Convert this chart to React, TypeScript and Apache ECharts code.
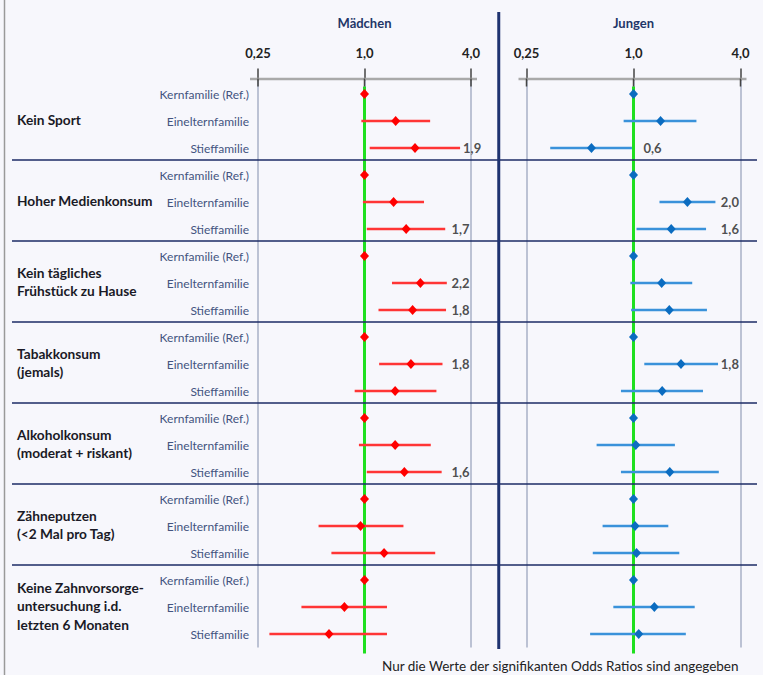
import React, { useEffect, useRef } from "react";
import * as echarts from "echarts";

const groups = [
  "Kein Sport",
  "Hoher Medienkonsum",
  "Kein tägliches\nFrühstück zu Hause",
  "Tabakkonsum\n(jemals)",
  "Alkoholkonsum\n(moderat + riskant)",
  "Zähneputzen\n(<2 Mal pro Tag)",
  "Keine Zahnvorsorge-\nuntersuchung i.d.\nletzten 6 Monaten",
];
const families = ["Kernfamilie (Ref.)", "Einelternfamilie", "Stieffamilie"];
const panelTitles = ["Mädchen", "Jungen"];
const tickValues = [0.25, 1, 4];

// Mädchen (odds ratio, lower CI, upper CI), 3 rows per group
const girlsOR = [1, 1.5, 1.93, 1, 1.46, 1.72, 1, 2.07, 1.87, 1, 1.83, 1.49, 1, 1.49, 1.68, 1, 0.95, 1.29, 1, 0.77, 0.63];
const girlsLo = [null, 0.96, 1.07, null, 0.98, 1.03, null, 1.43, 1.2, null, 1.21, 0.88, null, 0.93, 1.03, null, 0.55, 0.65, null, 0.44, 0.29];
const girlsHi = [null, 2.35, 3.47, null, 2.17, 2.86, null, 2.92, 2.89, null, 2.76, 2.55, null, 2.37, 2.73, null, 1.66, 2.51, null, 1.34, 1.34];
const girlsSig = ["", "", "1,9", "", "", "1,7", "", "2,2", "1,8", "", "1,8", "", "", "", "1,6", "", "", "", "", "", ""];

// Jungen
const boysOR = [1, 1.42, 0.58, 1, 2.01, 1.63, 1, 1.44, 1.59, 1, 1.85, 1.45, 1, 1.03, 1.6, 1, 1.02, 1.04, 1, 1.31, 1.07];
const boysLo = [null, 0.88, 0.34, null, 1.4, 1.04, null, 0.96, 0.97, null, 1.15, 0.85, null, 0.62, 0.85, null, 0.67, 0.59, null, 0.77, 0.57];
const boysHi = [null, 2.26, 0.98, null, 2.89, 2.56, null, 2.14, 2.59, null, 2.99, 2.46, null, 1.71, 3.02, null, 1.57, 1.81, null, 2.21, 1.97];
const boysSig = ["", "", "0,6", "", "2,0", "1,6", "", "", "", "", "1,8", "", "", "", "", "", "", "", "", "", ""];

const noteText = "Nur die Werte der signifikanten Odds Ratios sind angegeben";

const FONT = "Lato, 'Open Sans', 'Noto Sans', sans-serif";
const LABEL_COL = 3.1;

export default function App() {
  const ref = useRef<HTMLDivElement>(null);

  useEffect(() => {
    const chart = echarts.init(ref.current!, null, { renderer: "svg" });
    const n = groups.length * families.length;
    const rowIdx = Array.from({ length: n }, (_, i) => i);
    const lg = (v: number) => Math.log2(v);
    const fmtTick = (v: number) => {
      const val = Math.pow(2, v);
      return (val < 1 ? val.toFixed(2) : val.toFixed(1)).replace(".", ",");
    };

    const panels = [
      { or: girlsOR, lo: girlsLo, hi: girlsHi, sig: girlsSig, line: "#ff3535", mark: "#ff0000" },
      { or: boysOR, lo: boysLo, hi: boysHi, sig: boysSig, line: "#3a92da", mark: "#0b6cc0" },
    ];

    const grids = [
      { left: 258, top: 80.5, width: 213, height: 567 },
      { left: 526.5, top: 80.5, width: 214, height: 567 },
    ];

    const xAxes = grids.map((_, k) => ({
      type: "value",
      gridIndex: k,
      position: "top",
      min: lg(tickValues[0]),
      max: lg(tickValues[tickValues.length - 1]),
      interval: lg(tickValues[1]) - lg(tickValues[0]),
      axisLine: { show: false },
      axisTick: { show: true, length: 12, lineStyle: { color: "#444", width: 1.5 } },
      axisLabel: {
        formatter: fmtTick,
        fontFamily: FONT,
        fontSize: 13,
        fontWeight: "bold",
        color: "#222",
        margin: 21,
      },
      splitLine: { show: true, lineStyle: { color: "#bcc2d4", width: 2 } },
    }));

    const yAxes = grids.map((_, k) => ({
      type: "category",
      gridIndex: k,
      inverse: true,
      data: rowIdx.map(String),
      axisLine: { show: false },
      axisTick: { show: false },
      splitLine: { show: false },
      axisLabel:
        k === 0
          ? {
              show: true,
              interval: 0,
              formatter: (_v: string, i: number) => families[i % families.length],
              margin: 9,
              fontSize: 12,
              color: "#43547f",
              fontFamily: FONT,
            }
          : { show: false },
    }));

    const series: any[] = [];
    panels.forEach((p, k) => {
      const ciData = rowIdx
        .filter((i) => p.lo[i] != null && p.hi[i] != null)
        .map((i) => [lg(p.lo[i] as number), lg(p.hi[i] as number), i]);
      series.push({
        type: "custom",
        xAxisIndex: k,
        yAxisIndex: k,
        z: 3,
        encode: { x: [0, 1], y: 2 },
        data: ciData,
        renderItem: (_params: any, api: any) => {
          const a = api.coord([api.value(0), api.value(2)]);
          const b = api.coord([api.value(1), api.value(2)]);
          return {
            type: "line",
            shape: { x1: a[0], y1: a[1], x2: b[0], y2: b[1] },
            style: { stroke: p.line, lineWidth: 2.5 },
          };
        },
      });
      series.push({
        type: "scatter",
        xAxisIndex: k,
        yAxisIndex: k,
        z: 4,
        symbol: "diamond",
        symbolSize: [9, 10],
        itemStyle: { color: p.mark, opacity: 1 },
        data: rowIdx.map((i) => [lg(p.or[i]), i]),
      });
      const labData = rowIdx
        .filter((i) => p.sig[i])
        .map((i) => {
          const hi = p.hi[i] as number;
          const anchor = hi < 1 ? 1 : Math.max(hi, LABEL_COL);
          const dist = hi < 1 ? 10 : hi > LABEL_COL ? 3 : 0;
          return { value: [lg(anchor), i, p.sig[i]], label: { distance: dist } };
        });
      series.push({
        type: "scatter",
        xAxisIndex: k,
        yAxisIndex: k,
        z: 5,
        symbolSize: 0,
        data: labData,
        label: {
          show: true,
          position: "right",
          formatter: (q: any) => q.value[2],
          fontFamily: FONT,
          fontSize: 13,
          fontWeight: "bold",
          color: "#222",
        },
      });
    });

    chart.setOption({
      animation: false,
      backgroundColor: "#f7f7fc",
      grid: grids,
      xAxis: xAxes,
      yAxis: yAxes,
      series,
    });

    const px = (k: number, x: number, y: number) =>
      chart.convertToPixel({ gridIndex: k } as any, [x, y]) as number[];

    const step = px(0, 0, 1)[1] - px(0, 0, 0)[1];
    const gridTop = px(0, 0, 0)[1] - step / 2;
    const gridBottom = px(0, 0, n - 1)[1] + step / 2;
    const graphic: any[] = [];

    // left page border
    graphic.push({
      type: "line",
      shape: { x1: 4.5, y1: 0, x2: 4.5, y2: 675 },
      style: { stroke: "#9a9a9a", lineWidth: 1.5 },
      z: 1,
    });

    grids.forEach((_, k) => {
      const xMin = px(k, lg(tickValues[0]), 0)[0];
      const xMax = px(k, lg(tickValues[tickValues.length - 1]), 0)[0];
      const xOne = px(k, 0, 0)[0];
      graphic.push({
        type: "line",
        shape: { x1: xMin - 8, y1: gridTop - 1.5, x2: xMax + 6, y2: gridTop - 1.5 },
        style: { stroke: "#a9a9a9", lineWidth: 2.5 },
        z: 1,
      });
      // short dark tick extensions below the axis line
      tickValues.forEach((t) => {
        const tx = px(k, lg(t), 0)[0];
        graphic.push({
          type: "line",
          shape: { x1: tx, y1: gridTop - 2, x2: tx, y2: gridTop + 6 },
          style: { stroke: "#444", lineWidth: 1.5 },
          z: 3,
        });
      });
      graphic.push({
        type: "line",
        shape: { x1: xOne, y1: gridTop + 6, x2: xOne, y2: gridBottom + 6 },
        style: { stroke: "#1fe01f", lineWidth: 3 },
        z: 2,
      });
      graphic.push({
        type: "text",
        x: xOne,
        y: 23,
        style: {
          text: panelTitles[k],
          fill: "#1f3668",
          fontFamily: FONT,
          fontSize: 13,
          fontWeight: "bold",
          align: "center",
          verticalAlign: "middle",
        },
        z: 5,
      });
    });

    // separators between groups
    for (let g = 1; g < groups.length; g++) {
      const y = (px(0, 0, g * 3 - 1)[1] + px(0, 0, g * 3)[1]) / 2 - 1.5;
      graphic.push({
        type: "line",
        shape: { x1: 12, y1: y, x2: 757, y2: y },
        style: { stroke: "#1c2b66", lineWidth: 1.3 },
        z: 2,
      });
    }

    // divider between panels
    const divX = (px(0, lg(tickValues[tickValues.length - 1]), 0)[0] + px(1, lg(tickValues[0]), 0)[0]) / 2;
    graphic.push({
      type: "line",
      shape: { x1: divX, y1: 12, x2: divX, y2: gridBottom + 1.5 },
      style: { stroke: "#1f3370", lineWidth: 3 },
      z: 3,
    });

    // group labels
    groups.forEach((g, gi) => {
      const y = px(0, 0, gi * 3 + 1)[1] - 1.5;
      graphic.push({
        type: "text",
        x: 17,
        y,
        style: {
          text: g,
          fill: "#1a1a26",
          fontFamily: FONT,
          fontSize: 13.7,
          fontWeight: "bold",
          align: "left",
          verticalAlign: "middle",
          lineHeight: 18.5,
        },
        z: 5,
      });
    });

    graphic.push({
      type: "text",
      x: 382,
      y: 659,
      style: {
        text: noteText,
        fill: "#222",
        fontFamily: FONT,
        fontSize: 13.5,
        align: "left",
        verticalAlign: "top",
      },
      z: 5,
    });

    chart.setOption({ graphic });

    return () => chart.dispose();
  }, []);

  return (
    <div
      ref={ref}
      style={{ position: "absolute", left: 0, top: 0, width: 763, height: 675 }}
    />
  );
}
